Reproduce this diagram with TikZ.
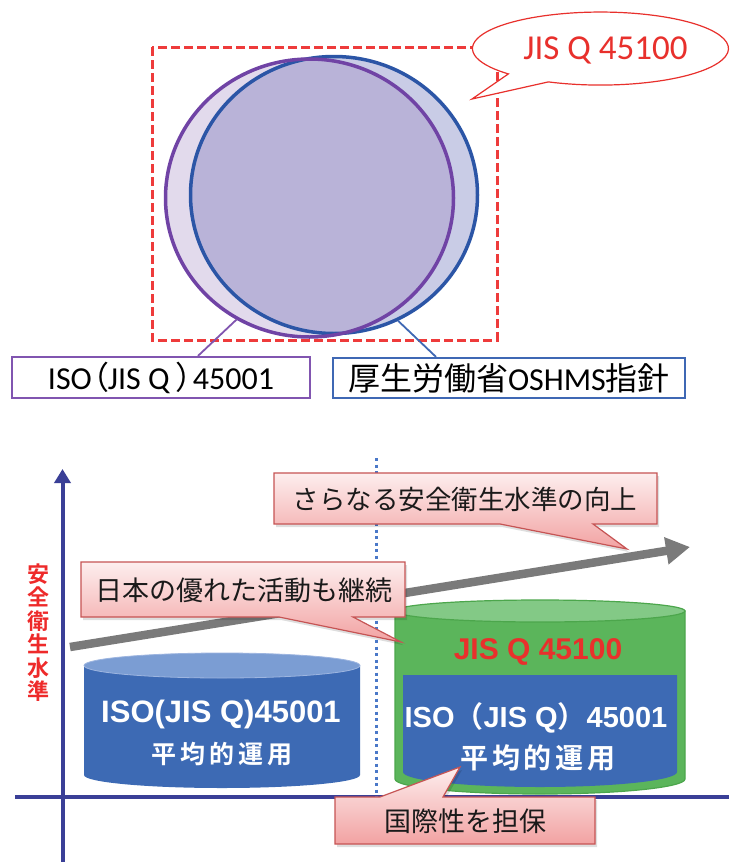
\documentclass[tikz,border=0pt]{standalone}
\usepackage{fontspec}
\setmainfont{Carlito}
\newfontfamily\jp[BoldFont={Noto Sans CJK JP Bold}]{Noto Sans CJK JP}
\newfontfamily\jpp[RawFeature=+palt]{Noto Sans CJK JP}
\newfontfamily\ar[BoldFont={Liberation Sans Bold}]{Liberation Sans}
\usetikzlibrary{shapes.geometric,arrows.meta}
\definecolor{axisblue}{HTML}{3A3F97}
\definecolor{dotblue}{HTML}{4A78C8}
\definecolor{grayarrow}{HTML}{7A7A7A}
\definecolor{calltop}{HTML}{FDEEEE}
\definecolor{callbot}{HTML}{F2A2A2}
\definecolor{callborder}{HTML}{C65454}
\definecolor{cylblue}{HTML}{3D6AB4}
\definecolor{cyltop}{HTML}{7B9DD3}
\definecolor{cyltopedge}{HTML}{9DB5E0}
\definecolor{cylgreen}{HTML}{5BB55B}
\definecolor{greentop}{HTML}{83C986}
\definecolor{greenedge}{HTML}{4CA64C}
\definecolor{jisred}{HTML}{E8302C}
\definecolor{axred}{HTML}{EE2A2A}
\definecolor{isofill}{HTML}{E2DAEC}
\definecolor{oshfill}{HTML}{C9CCE6}
\definecolor{bothfill}{HTML}{B9B3D8}
\definecolor{isoline}{HTML}{7043A5}
\definecolor{oshline}{HTML}{2B55A6}
\definecolor{dashred}{HTML}{EE3B3B}
\definecolor{labpurple}{HTML}{8155B0}
\definecolor{labblue}{HTML}{3F68B4}
\definecolor{txtdark}{HTML}{1A1A1A}
\tikzset{
  ringline/.style={ellipse, inner sep=0pt, line width=3.5pt},
  labelbox/.style={line width=2.2pt, inner sep=0pt, fill=white},
  connline/.style={line width=1.8pt},
  reddash/.style={draw=dashred, line width=3pt, dash pattern=on 9pt off 4pt},
  axisline/.style={draw=axisblue, line width=4pt},
  dotline/.style={draw=dotblue, line width=3pt, dash pattern=on 3pt off 3.5pt},
  growarrow/.style={draw=grayarrow, line width=8.5pt, -{Triangle[length=24pt,width=26pt]}},
  callout/.style={top color=calltop, bottom color=callbot, draw=callborder, line width=1.2pt},
  callshadow/.style={fill=black, opacity=0.13},
  calltext/.style={text=txtdark, font=\jp\fontsize{27}{30}\selectfont, inner sep=0pt},
  cyltext/.style={text=white, inner sep=0pt},
}
\begin{document}
\begin{tikzpicture}[x=1pt,y=-1pt]
\useasboundingbox (0,0) rectangle (729,862);
\fill[white] (0,0) rectangle (729,862);

% ---------- top part ----------
\fill[isofill] (309.5,198) ellipse[x radius=144,y radius=139];
\fill[oshfill] (334,195) ellipse[x radius=143.5,y radius=138.5];
\begin{scope}
  \clip (309.5,198) ellipse[x radius=144,y radius=139];
  \fill[bothfill] (334,195) ellipse[x radius=143.5,y radius=138.5];
\end{scope}
\node[ringline, draw=oshline, minimum width=287pt, minimum height=277pt] (osh) at (334,195) {};
\node[ringline, draw=isoline, minimum width=288pt, minimum height=278pt] (iso) at (309.5,198) {};

\draw[reddash] (152,47) rectangle (497,340);

% speech balloon
\path[fill=white, draw=jisred, line width=1.2pt]
  (548.4,81.9) arc[start angle=114, end angle=-224, x radius=128, y radius=36.5]
  -- (472,99) -- cycle;
\node[text=jisred, font=\fontsize{35}{40}\selectfont, inner sep=0pt] (jistop) at (605.5,50) {JIS Q 45100};

% label boxes
\node[labelbox, draw=labpurple, minimum width=298pt, minimum height=41pt,
      font=\fontsize{32}{36}\selectfont] (isobox) at (161,377.5)
      {ISO{\jpp （}JIS Q {\jpp ）}45001};
\node[labelbox, draw=labblue, minimum width=352pt, minimum height=40pt,
      font=\fontsize{32}{36}\selectfont] (oshbox) at (509,378)
      {{\jp 厚生労働省}OSHMS{\jp 指針}};
\draw[connline, draw=labpurple] (iso.239.4) -- ([xshift=37pt]isobox.north);
\draw[connline, draw=labblue] (osh.297.5) -- ([xshift=-73pt]oshbox.north);

% ---------- bottom part ----------
\coordinate (yB) at (62.5,862);
\coordinate (yT) at (62.5,469);
\coordinate (xL) at (15,797);
\coordinate (xR) at (729,797);
\coordinate (dT) at (376,458);
\coordinate (dB) at (376,797);
\draw[axisline] (xL) -- (xR);
\draw[axisline, -{Triangle[length=14pt,width=16pt]}] (yB) -- (yT);
\draw[dotline] (dT) -- (dB);

\node[text=axred, align=center, inner sep=0pt,
      font=\jp\bfseries\fontsize{22}{23.5}\selectfont] (ylab) at (38.5,632.5)
      {安\\全\\衛\\生\\水\\準};

% left cylinder
\fill[cylblue] (84,665.5) -- (84,775) arc[start angle=180,end angle=0,x radius=138,y radius=13] -- (360,665.5) -- cycle;
\filldraw[fill=cyltop, draw=cyltopedge, line width=0.8pt] (222,665.5) ellipse[x radius=138,y radius=12.5];
\node[cyltext, font=\ar\bfseries\fontsize{31}{34}\selectfont] (lt1) at (221,714) {ISO(JIS Q)45001};
\node[cyltext, font=\jp\bfseries\fontsize{25}{28}\selectfont\addfontfeature{LetterSpace=16}] (lt2) at (222,754) {平均的運用};

% green cylinder
\filldraw[fill=cylgreen, draw=greenedge, line width=1.2pt] (395,611) -- (395,779) arc[start angle=180,end angle=0,x radius=145,y radius=15] -- (685,611) -- cycle;
\filldraw[fill=greentop, draw=greenedge, line width=1.2pt] (540,611) ellipse[x radius=145,y radius=11];
\fill[cylblue] (403,675) -- (403,772) arc[start angle=180,end angle=0,x radius=137,y radius=15] -- (677,675) -- cycle;
\node[text=jisred, inner sep=0pt, font=\ar\bfseries\fontsize{30}{33}\selectfont] (gt) at (538,652) {JIS Q 45100};
\node[cyltext, font=\ar\bfseries\fontsize{29}{32}\selectfont] (rt1) at (536,718) {ISO{\jp\bfseries （}JIS Q{\jp\bfseries ）}45001};
\node[cyltext, font=\jp\bfseries\fontsize{28}{31}\selectfont\addfontfeature{LetterSpace=14}] (rt2) at (538,758) {平均的運用};

% growth arrow
\coordinate (aS) at (70,647);
\coordinate (aE) at (690,547);
\draw[growarrow] (aS) -- (aE);

% callout 1
\fill[callshadow] (276,476) -- (659,476) -- (659,527) -- (595,527) -- (629,552) -- (502,527) -- (276,527) -- cycle;
\path[callout] (274,473) -- (657,473) -- (657,524) -- (593,524) -- (627,549) -- (500,524) -- (274,524) -- cycle;
\node[calltext, font=\jp\fontsize{26.5}{30}\selectfont] (c1) at (465,499) {さらなる安全衛生水準の向上};

% callout 2
\fill[callshadow] (83,565) -- (407,565) -- (407,620) -- (355,620) -- (403,645) -- (281,620) -- (83,620) -- cycle;
\path[callout] (81,562) -- (405,562) -- (405,617) -- (353,617) -- (401,642) -- (279,617) -- (81,617) -- cycle;
\node[calltext] (c2) at (244,590) {日本の優れた活動も継続};

% callout 3
\fill[callshadow] (337,800) -- (382,800) -- (462,770) -- (445,800) -- (597,800) -- (597,847) -- (337,847) -- cycle;
\path[callout] (335,797) -- (380,797) -- (460,767) -- (443,797) -- (595,797) -- (595,844) -- (335,844) -- cycle;
\node[calltext] (c3) at (465,821) {国際性を担保};
\end{tikzpicture}
\end{document}
